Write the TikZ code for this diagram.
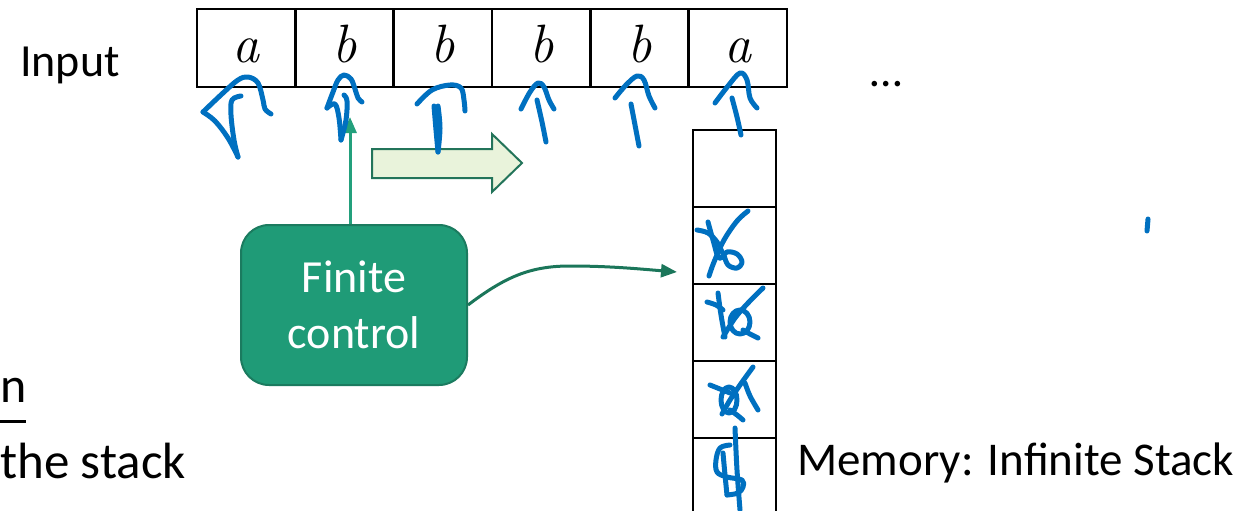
\documentclass[tikz,border=0pt]{standalone}
\usepackage{fontspec}
\usetikzlibrary{arrows.meta}
\newfontfamily\calfont{Carlito}
\definecolor{inkblue}{HTML}{0070C0}
\definecolor{fcfill}{HTML}{1F9B77}
\definecolor{fcedge}{HTML}{1B7B5F}
\definecolor{upgreen}{HTML}{23A07C}
\definecolor{curvegreen}{HTML}{1B765A}
\definecolor{blockfill}{HTML}{E9F3DB}
\definecolor{blockedge}{HTML}{23745A}
\begin{document}
\begin{tikzpicture}[x=1pt,y=-1pt,
  tapecell/.style={draw=black, line width=2.4pt, minimum width=98.3pt, minimum height=78pt,
    inner sep=0pt, outer sep=0pt, font=\fontsize{54}{64}\selectfont\itshape,
    text height=38pt, text depth=8pt},
  stackcell/.style={draw=black, line width=2.4pt, minimum width=83pt, minimum height=77pt,
    inner sep=0pt, outer sep=0pt},
  label/.style={font=\calfont\fontsize{46}{56}\selectfont, inner sep=0pt},
  control/.style={draw=fcedge, fill=fcfill, line width=2pt, rounded corners=28pt,
    minimum width=226pt, minimum height=160pt, text=white, align=center,
    font=\calfont\fontsize{46}{56}\selectfont},
  ink/.style={draw=inkblue, line width=5pt, line cap=round, line join=round},
  ptr/.style={draw=upgreen, line width=3pt, -{Triangle[width=13pt,length=16pt]}},
  link/.style={draw=curvegreen, line width=3pt, -{Triangle[width=13pt,length=16pt]}},
  move/.style={draw=blockedge, fill=blockfill, line width=2pt, line join=miter}]
\useasboundingbox (0,0) rectangle (1258,511);
\clip (0,0) rectangle (1258,511);

% input tape
\foreach \i/\s in {1/a,2/b,3/b,4/b,5/b,6/a}
  \node[tapecell] (t\i) at ({197+98.33*(\i-0.5)},48) {\s};
\node[label, anchor=base west] (inlabel) at (20,77) {Input};
\node[label, anchor=base] (dots) at (886,86) {…};

% stack memory
\foreach \i in {1,...,5}
  \node[stackcell] (s\i) at (734.5,{130+77*(\i-0.5)}) {};
\node[label, anchor=base west, font=\calfont\fontsize{47}{56}\selectfont] (memlabel) at (797,475) {Memory: Infinite Stack};

% finite control and its connectors
\node[control] (fc) at (354,305) {Finite\\control};
\coordinate (head) at (350,117);
\coordinate (push) at (677,272);
\draw[ptr] (fc.north -| head) -- (head);
\draw[link] (fc.east) .. controls (505,277) and (530,266) .. (570,266)
  .. controls (610,266) and (640,269) .. (push);

% block arrow showing the head moving right
\draw[move] (372,149) -- (492,149) -- (492,134) -- (522,163) -- (492,192) -- (492,178) -- (372,178) -- cycle;

% text at the left margin
\node[label, anchor=base west, font=\calfont\fontsize{50}{60}\selectfont] (opn) at (0,402) {n};
\draw[line width=3pt] (0,421) -- (26,421);
\node[label, anchor=base west, font=\calfont\fontsize{51}{60}\selectfont] (stk) at (0,478) {the stack};

% handwritten head marks under the tape
\draw[ink] plot[smooth, tension=0.6] coordinates {(241,96) (232,100) (231,115) (234,140) (238,157)};
\draw[ink] plot[smooth, tension=0.6] coordinates {(238,157) (228,138) (215,121) (203,112)};
\draw[ink] plot[smooth, tension=0.6] coordinates {(203,112) (223,93) (238,80) (248,77) (258,83) (263,100) (265,109) (271,114)};

\draw[ink] plot[smooth, tension=0.6] coordinates {(327,108) (333,92) (338,80) (344,75) (351,79) (355,89) (358,98) (362,102)};
\draw[ink] plot[smooth, tension=0.6] coordinates {(327,108) (335,104) (339,118) (341,140)};
\draw[ink] plot[smooth, tension=0.6] coordinates {(341,140) (346,120) (347,101) (344,95)};

\draw[ink] plot[smooth, tension=0.6] coordinates {(417,104) (432,90) (450,85) (461,88) (464,100) (465,111)};
\draw[ink] plot[smooth, tension=0.6] coordinates {(434,106) (436,130) (438,152)};
\draw[ink] plot[smooth, tension=0.6] coordinates {(438,152) (440,128) (438,106)};

\draw[ink] plot[smooth, tension=0.6] coordinates {(521,109) (530,92) (538,83) (544,87) (549,100) (554,109)};
\draw[ink] plot[smooth, tension=0.6] coordinates {(537,100) (542,122) (546,142)};

\draw[ink] plot[smooth, tension=0.6] coordinates {(615,98) (626,85) (637,76) (644,80) (649,96) (655,108)};
\draw[ink] plot[smooth, tension=0.6] coordinates {(631,104) (635,125) (639,146)};

\draw[ink] plot[smooth, tension=0.6] coordinates {(715,103) (728,86) (740,73) (747,80) (750,98) (757,108)};
\draw[ink] plot[smooth, tension=0.6] coordinates {(732,98) (737,117) (741,135)};

% crossed-out stack symbols
\draw[ink] plot[smooth, tension=0.6] coordinates {(697,230) (708,233) (717,242) (722,252)};
\draw[ink] plot[smooth, tension=0.6] coordinates {(708,222) (713,240) (719,258) (727,252) (737,254) (742,262) (737,268) (728,265) (724,255)};
\draw[ink] plot[smooth, tension=0.6] coordinates {(748,211) (737,221) (724,240) (714,262) (709,276)};

\draw[ink] plot[smooth, tension=0.6] coordinates {(707,302) (716,305) (723,310)};
\draw[ink] plot[smooth, tension=0.6] coordinates {(718,293) (721,315) (725,337)};
\draw[ink] (740,322) ellipse (10pt and 12pt);
\draw[ink] plot[smooth, tension=0.6] coordinates {(763,288) (748,303) (735,318) (723,337)};
\draw[ink] plot[smooth, tension=0.6] coordinates {(743,330) (750,334) (758,338)};

\draw[ink] (729,400) ellipse (8pt and 13pt);
\draw[ink] plot[smooth, tension=0.6] coordinates {(753,367) (740,385) (730,400) (722,414)};
\draw[ink] plot[smooth, tension=0.6] coordinates {(710,385) (720,389) (730,393)};
\draw[ink] plot[smooth, tension=0.6] coordinates {(745,383) (750,396) (758,410)};
\draw[ink] plot[smooth, tension=0.6] coordinates {(730,410) (737,415) (743,420)};

\draw[ink] plot[smooth, tension=0.6] coordinates {(735,428) (737,470) (740,510)};
\draw[ink] plot[smooth, tension=0.6] coordinates {(730,445) (720,448) (716,460) (717,472) (727,477) (742,480) (743,487) (738,493) (727,495)};
\draw[ink] plot[smooth, tension=0.6] coordinates {(723,453) (725,475) (727,495)};

% stray mark
\draw[ink] (1148,219) -- (1147,231);
\end{tikzpicture}
\end{document}
